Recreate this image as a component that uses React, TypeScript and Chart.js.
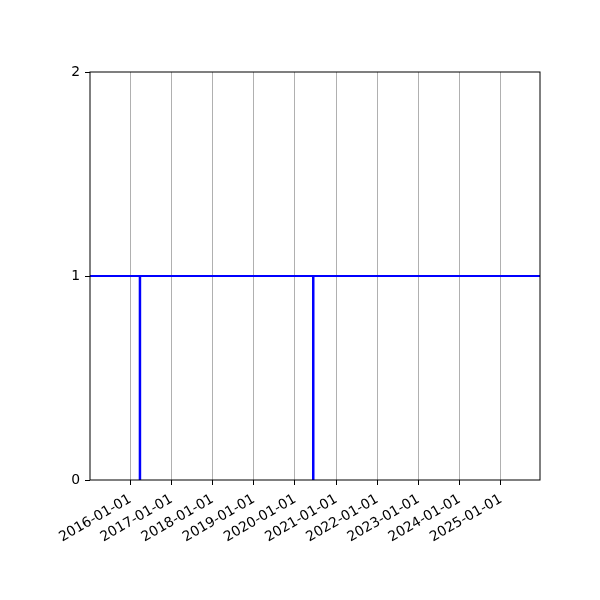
import { useEffect, useRef } from "react"
import { Chart, registerables } from "chart.js"

Chart.register(...registerables)

// x range of the axes and the yearly tick labels
const xStart = "2015-01-09"
const xEnd = "2025-12-13"
const tickDates = [
  "2016-01-01", "2017-01-01", "2018-01-01", "2019-01-01", "2020-01-01",
  "2021-01-01", "2022-01-01", "2023-01-01", "2024-01-01", "2025-01-01",
]
const yTicks = [0, 1, 2]

// constant level and the dates where it drops to zero
const level = 1
const eventDates = ["2016-03-27", "2020-06-11"]

const ms = (d: string) => Date.parse(d)
const fmt = (v: number) => new Date(v).toISOString().slice(0, 10)

const frame = {
  id: "frame",
  afterDraw(chart: Chart) {
    const { ctx, chartArea: a } = chart
    ctx.save()
    ctx.strokeStyle = "#000"
    ctx.lineWidth = 1
    ctx.strokeRect(a.left, a.top, a.right - a.left, a.bottom - a.top)
    ctx.restore()
  },
}

export default function App() {
  const chartRef = useRef<HTMLCanvasElement>(null)
  const chartInstance = useRef<Chart | null>(null)

  useEffect(() => {
    document.body.style.margin = "0"
    if (!chartRef.current) return
    if (chartInstance.current) chartInstance.current.destroy()
    const ctx = chartRef.current.getContext("2d")
    if (!ctx) return

    const blue = "#0000ff"
    const datasets: any[] = [
      {
        data: [
          { x: ms(xStart), y: level },
          { x: ms(xEnd), y: level },
        ],
        borderColor: blue,
        borderWidth: 2,
        pointRadius: 0,
      },
      ...eventDates.map((d) => ({
        data: [
          { x: ms(d), y: 0 },
          { x: ms(d), y: level },
        ],
        borderColor: blue,
        borderWidth: 2.5,
        pointRadius: 0,
      })),
    ]

    const font = { family: "DejaVu Sans", size: 13.9 }

    chartInstance.current = new Chart(ctx, {
      type: "line",
      data: { datasets },
      options: {
        animation: false,
        responsive: false,
        layout: { padding: { left: 0, top: 72, right: 60, bottom: 0 } },
        plugins: { legend: { display: false }, tooltip: { enabled: false } },
        scales: {
          x: {
            type: "linear",
            min: ms(xStart),
            max: ms(xEnd),
            afterBuildTicks: (axis: any) => {
              axis.ticks = tickDates.map((d) => ({ value: ms(d) }))
            },
            afterFit: (axis: any) => {
              axis.height = 120
            },
            grid: {
              color: "#b0b0b0",
              lineWidth: 1,
              tickColor: "#000",
              tickLength: 5,
            },
            border: { display: false },
            ticks: {
              color: "#000",
              font,
              padding: 6,
              maxRotation: 30,
              minRotation: 30,
              autoSkip: false,
              callback: (v: any) => fmt(Number(v)),
            },
          },
          y: {
            min: 0,
            max: 2,
            afterBuildTicks: (axis: any) => {
              axis.ticks = yTicks.map((v) => ({ value: v }))
            },
            afterFit: (axis: any) => {
              axis.width = 90
            },
            grid: {
              drawOnChartArea: false,
              tickColor: "#000",
              tickLength: 5,
            },
            border: { display: false },
            ticks: { color: "#000", font, padding: 5 },
          },
        },
      },
      plugins: [frame],
    })

    return () => {
      if (chartInstance.current) chartInstance.current.destroy()
    }
  }, [])

  return (
    <div style={{ width: 600, height: 600, background: "#fff" }}>
      <canvas ref={chartRef} width={600} height={600} />
    </div>
  )
}
